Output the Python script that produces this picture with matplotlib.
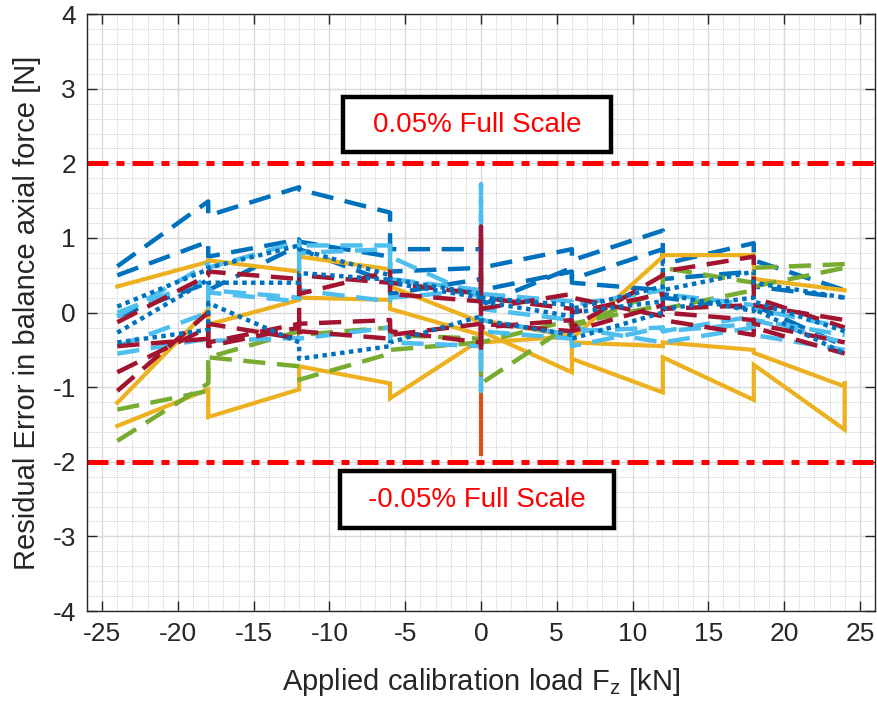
import matplotlib
matplotlib.use("Agg")
import matplotlib.pyplot as plt
from matplotlib.patches import Rectangle
from matplotlib.ticker import MultipleLocator

plt.rcParams['font.family'] = ['Liberation Sans', 'DejaVu Sans']
plt.rcParams['mathtext.fontset'] = 'custom'
plt.rcParams['mathtext.rm'] = 'Liberation Sans'
plt.rcParams['mathtext.it'] = 'Liberation Sans'
plt.rcParams['axes.unicode_minus'] = False

# ---------------- data ----------------
F16 = [-24, -18, -18, -12, -12, -6, -6, 0, 0, 6, 6, 12, 12, 18, 18, 24]
F17 = [-24, -18, -18, -12, -12, -6, -6, 0, 0, 6, 6, 12, 12, 18, 18, 24, 24]
F18 = [-24, -18, -18, -12, -12, -6, -6, 0, 0, 0, 0, 6, 6, 12, 12, 18, 18, 24]

blue_dash_1 = [0.62, 1.49, 1.30, 1.68, 1.65, 1.34, 0.85, 0.85, 0.60, 0.85, 0.70, 1.10, 0.65, 0.93, 0.70, 0.30]
blue_dash_2 = [0.50, 0.95, 0.75, 0.98, 0.95, 0.75, 0.55, 0.60, 0.30, 0.55, 0.45, 0.85, 0.45, 0.55, 0.35, 0.20]
blue_dash_3 = [-0.05, 0.40, 0.30, 0.90, 0.85, 0.40, 0.25, 0.45, 0.10, 0.60, 0.40, 0.30, 0.20, 0.05, 0.10, -0.45]

blue_dot_1 = [0.08, 0.58, 0.60, 0.90, 0.85, 0.50, 0.45, 0.25, 0.20, 0.10, 0.05, 0.35, 0.30, 0.55, 0.40, 0.20]
blue_dot_2 = [-0.40, -0.23, 0.13, -0.40, -0.62, -0.45, -0.40, -0.05, -0.10, -0.30, -0.35, 0.00, 0.05, 0.20, 0.15, -0.25]
blue_dot_3 = [-0.27, 0.44, 0.40, 0.40, 0.53, 0.44, 0.40, 0.20, 0.15, -0.05, 0.00, 0.15, 0.25, 0.02, 0.05, -0.55]

lblue_1 = [-0.45, 0.00, 0.30, 0.20, 0.90, 0.90, 0.75, 0.20, 1.72, -1.05, -0.10, -0.30, -0.45, -0.20, -0.25, -0.05, -0.10, -0.40]
lblue_2 = [-0.05, 0.65, 0.60, 0.95, 0.80, 0.85, 0.45, 0.30, 0.05, -0.10, -0.20, -0.40, -0.40, -0.20, -0.30, -0.50]
lblue_3 = [-0.55, -0.35, -0.38, -0.34, -0.35, -0.20, -0.40, -0.45, -0.25, -0.35, -0.25, -0.20, -0.25, -0.15, -0.10, -0.30]
lblue_4 = [0.00, 0.45, 0.27, 0.15, 0.30, 0.15, 0.20, 0.30, 0.25, 0.15, 0.10, 0.30, 0.25, 0.10, 0.05, -0.20]

dred_1 = [-1.05, 0.00, -0.40, -0.15, 0.50, 0.40, 0.40, 0.25, 1.15, -0.55, -0.20, -0.10, -0.20, 0.50, 0.55, 0.75, 0.20, -0.20]
dred_2 = [-0.80, -0.20, -0.45, -0.20, -0.15, -0.10, -0.25, -0.40, -0.15, -0.25, -0.25, 0.10, 0.05, 0.10, 0.10, -0.10]
dred_3 = [-0.13, 0.50, 0.55, 0.45, 0.25, 0.55, 0.25, 0.15, 0.20, 0.05, 0.00, 0.25, 0.00, -0.10, -0.15, -0.40]
dred_4 = [-0.45, -0.35, -0.15, -0.35, -0.25, -0.35, -0.30, -0.15, 0.05, 0.25, 0.20, -0.05, -0.10, -0.30, -0.20, -0.55]

green_1 = [-1.72, -0.95, -0.60, -0.72, -0.90, -0.55, -0.50, -0.40, -0.95, -0.15, -0.20, 0.30, 0.60, 0.40, 0.60, 0.65]
green_2 = [-1.30, -1.05, -0.60, -0.25, -0.30, -0.20, -0.30, -0.35, -0.40, -0.10, -0.15, 0.10, 0.05, 0.30, 0.35, 0.60]

yellow_1 = [-1.52, -1.03, -1.40, -1.03, -0.72, -0.95, -1.15, -0.36, -0.40, -0.32, -0.62, -1.07, -0.60, -1.17, -0.70, -1.57, -0.95]
yellow_2 = [-1.21, 0.04, -0.16, 0.17, 0.20, 0.17, 0.05, -0.30, -0.25, -0.80, -0.40, -0.45, -0.40, -0.50, -0.54, -0.99, -0.95]
yellow_3 = [0.35, 0.68, 0.70, 0.55, 0.75, 0.58, 0.35, -0.13, -0.10, -0.32, -0.35, 0.75, 0.77, 0.77, 0.45, 0.30]

orange_x = [0, 0]
orange_1 = [-0.45, -1.90]

limit_upper = 2.0
limit_lower = -2.0
label_upper = "0.05% Full Scale"
label_lower = "-0.05% Full Scale"

# ---------------- style ----------------
C_BLUE = '#0072BD'
C_ORANGE = '#D95319'
C_YELLOW = '#EDB120'
C_GREEN = '#77AC30'
C_LBLUE = '#4DBEEE'
C_DRED = '#A2142F'

DASH = (5.0, 2.6)
DOT = (1.0, 1.0)

series = [
    (F16, blue_dash_1, C_BLUE, DASH),
    (F16, blue_dash_2, C_BLUE, DASH),
    (F16, blue_dash_3, C_BLUE, DASH),
    (F17, yellow_1, C_YELLOW, None),
    (F17, yellow_2, C_YELLOW, None),
    (F16, yellow_3, C_YELLOW, None),
    (orange_x, orange_1, C_ORANGE, None),
    (F16, green_1, C_GREEN, DASH),
    (F16, green_2, C_GREEN, DASH),
    (F18, lblue_1, C_LBLUE, DASH),
    (F16, lblue_2, C_LBLUE, DASH),
    (F16, lblue_3, C_LBLUE, DASH),
    (F16, lblue_4, C_LBLUE, DASH),
    (F18, dred_1, C_DRED, DASH),
    (F16, dred_2, C_DRED, DASH),
    (F16, dred_3, C_DRED, DASH),
    (F16, dred_4, C_DRED, DASH),
    (F16, blue_dot_1, C_BLUE, DOT),
    (F16, blue_dot_2, C_BLUE, DOT),
    (F16, blue_dot_3, C_BLUE, DOT),
]

fig = plt.figure(figsize=(8.77, 7.08), dpi=100)
ax = fig.add_axes([0.0992, 0.137, 0.8985, 0.843])

for xs, ys, col, dash in series:
    if dash is None:
        ax.plot(xs, ys, color=col, lw=3.0, solid_joinstyle='miter')
    else:
        ax.plot(xs, ys, color=col, lw=3.2, linestyle=(0, dash), dash_capstyle='butt')

# limits
for yv in (limit_upper, limit_lower):
    ax.axhline(yv, color='#FF0000', lw=3.6, linestyle=(0, (4.2, 1.6, 1.6, 1.6)))

ax.set_xlim(-26, 26)
ax.set_ylim(-4, 4)
ax.xaxis.set_major_locator(MultipleLocator(5))
ax.xaxis.set_minor_locator(MultipleLocator(1))
ax.yaxis.set_major_locator(MultipleLocator(1))
ax.yaxis.set_minor_locator(MultipleLocator(0.2))

ax.grid(which='major', color='#DADADA', lw=1.0, linestyle='-')
ax.grid(which='minor', color='#BDBDBD', lw=0.6, linestyle=(0, (1, 1.5)))
ax.set_axisbelow(True)

ax.tick_params(which='major', direction='in', length=7, width=1, top=True, right=True,
               labelsize=19, colors='#262626', pad=8)
ax.tick_params(which='minor', length=0)
for s in ax.spines.values():
    s.set_color('#262626')
    s.set_linewidth(1.0)

# text boxes
boxes = [((-9.1, 2.15, 17.7, 0.74), label_upper), ((-9.3, -2.89, 18.1, 0.76), label_lower)]
for (x0, y0, w, h), txt in boxes:
    ax.add_patch(Rectangle((x0, y0), w, h, fill=True, facecolor='white', edgecolor='black', lw=3.2, zorder=5))
    ax.text(x0 + w / 2, y0 + h / 2, txt, color='#FF0000', fontsize=20, ha='center', va='center', zorder=6)

ax.set_xlabel(r'Applied calibration load F$_{\mathregular{z}}$ [kN]', fontsize=21, color='#262626', labelpad=14)
ax.set_ylabel('Residual Error in balance axial force [N]', fontsize=21, color='#262626', labelpad=8)

fig.savefig('out.png', dpi=100)
